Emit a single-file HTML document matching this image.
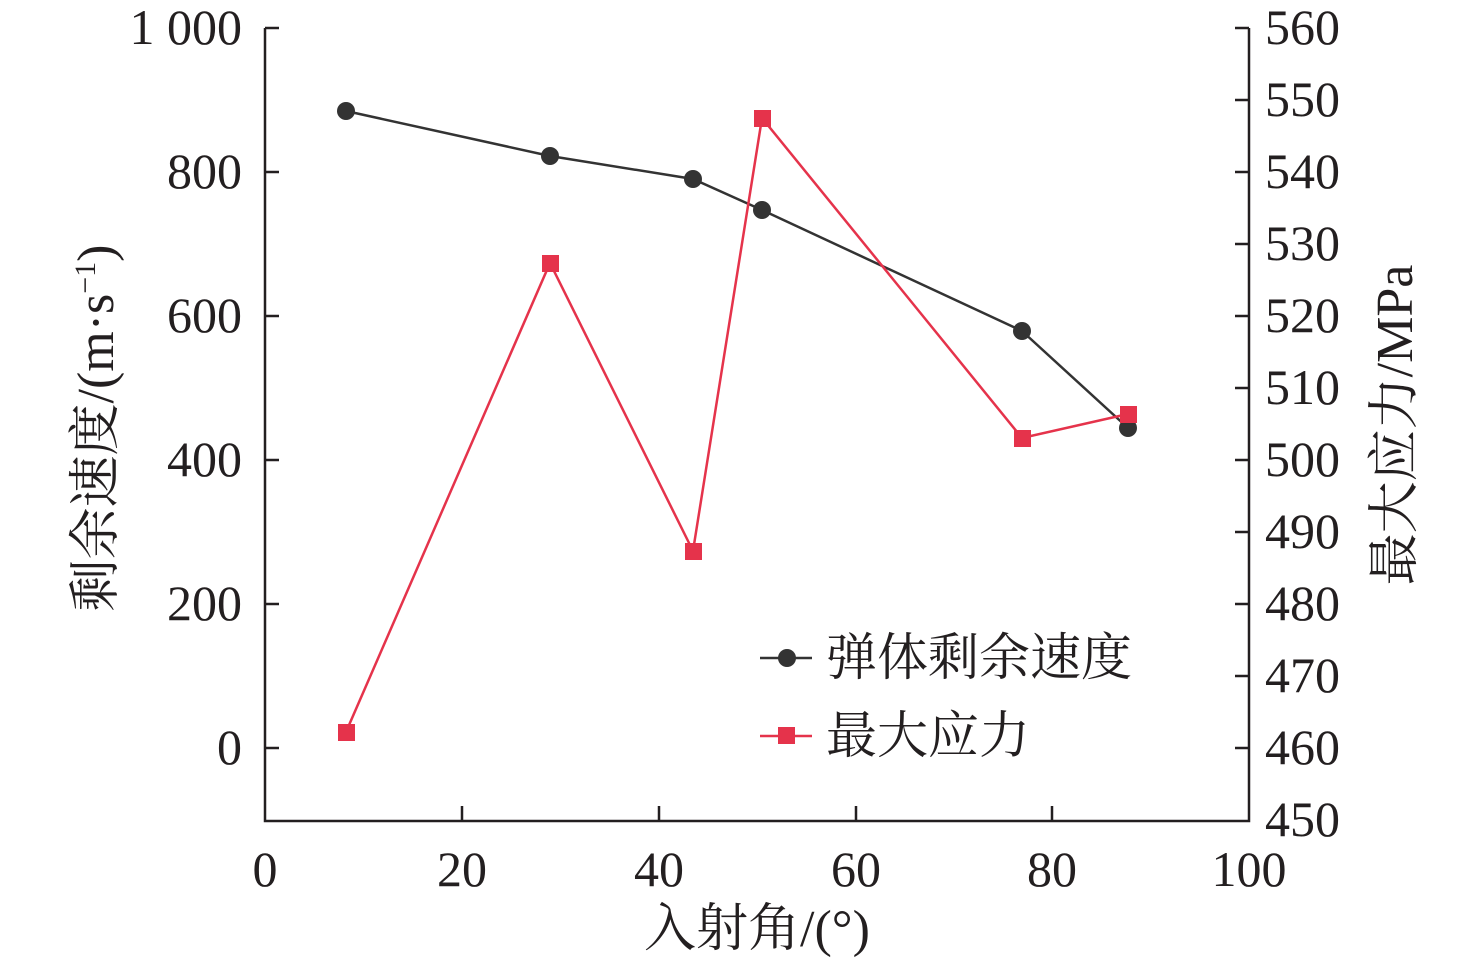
<!DOCTYPE html><html><head><meta charset="utf-8"><style>body{margin:0;background:#fff}svg text{font-family:"Liberation Serif","Noto Serif CJK SC",serif;fill:#231f20}</style></head><body>
<svg width="1476" height="963" xmlns="http://www.w3.org/2000/svg">
<g stroke="#231f20" stroke-width="2.5" fill="none">
<path d="M265,28V821H1249V28"/>
<path d="M265,28H279M265,172H279M265,316H279M265,460H279M265,604H279M265,748H279"/>
<path d="M1249,28H1235M1249,100H1235M1249,172H1235M1249,244H1235M1249,316H1235M1249,388H1235M1249,460H1235M1249,532H1235M1249,604H1235M1249,676H1235M1249,748H1235"/>
<path d="M462,820V806M659,820V806M856,820V806M1052,820V806"/>
</g>
<g font-size="50" text-anchor="end">
<text x="242" y="44">1 000</text><text x="242" y="188">800</text><text x="242" y="332">600</text><text x="242" y="476">400</text><text x="242" y="620">200</text><text x="242" y="764">0</text>
</g>
<g font-size="50" text-anchor="start">
<text x="1265" y="44">560</text><text x="1265" y="116">550</text><text x="1265" y="188">540</text><text x="1265" y="260">530</text><text x="1265" y="332">520</text><text x="1265" y="404">510</text><text x="1265" y="476">500</text><text x="1265" y="548">490</text><text x="1265" y="620">480</text><text x="1265" y="692">470</text><text x="1265" y="764">460</text><text x="1265" y="836">450</text>
</g>
<g font-size="50" text-anchor="middle">
<text x="265" y="886">0</text><text x="462" y="886">20</text><text x="659" y="886">40</text><text x="856" y="886">60</text><text x="1052" y="886">80</text><text x="1249" y="886">100</text>
</g>
<g font-size="52" text-anchor="middle">
<text x="757" y="946">入射角/(°)</text>
<text transform="translate(113,428) rotate(-90)">剩余速度/(m·s<tspan font-size="30" dy="-18">−1</tspan><tspan dy="18">)</tspan></text>
<text transform="translate(1412,425) rotate(-90)">最大应力/MPa</text>
</g>
<polyline points="346,111 550,156 693,179 762,210 1022,331 1128,428" fill="none" stroke="#333" stroke-width="2.5"/>
<g fill="#333"><circle cx="346" cy="111" r="9"/><circle cx="550" cy="156" r="9"/><circle cx="693" cy="179" r="9"/><circle cx="762" cy="210" r="9"/><circle cx="1022" cy="331" r="9"/><circle cx="1128" cy="428" r="9"/></g>
<polyline points="346,732 550,263 693,551 762,118 1022,438 1128,414" fill="none" stroke="#e5334b" stroke-width="2.5"/>
<g fill="#e5334b"><rect x="338" y="724" width="17" height="17"/><rect x="542" y="255" width="17" height="17"/><rect x="685" y="543" width="17" height="17"/><rect x="754" y="110" width="17" height="17"/><rect x="1014" y="430" width="17" height="17"/><rect x="1120" y="406" width="17" height="17"/></g>
<path d="M760,658H812" stroke="#333" stroke-width="2.5"/><circle cx="787" cy="658" r="9" fill="#333"/>
<path d="M760,736H812" stroke="#e5334b" stroke-width="2.5"/><rect x="778" y="727" width="17" height="17" fill="#e5334b"/>
<g font-size="51"><text x="826" y="675">弹体剩余速度</text><text x="826" y="753">最大应力</text></g>
</svg></body></html>
